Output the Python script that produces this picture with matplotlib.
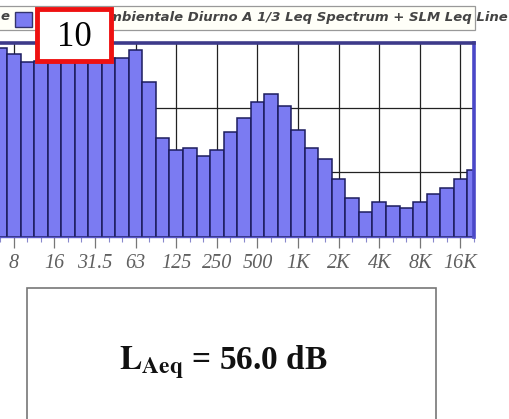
import matplotlib
matplotlib.use("Agg")
import matplotlib.pyplot as plt
from matplotlib.patches import Rectangle

plt.rcParams["mathtext.fontset"] = "stix"

# ---- data ----
bands = ["6.3", "8", "10", "12.5", "16", "20", "25", "31.5", "40", "50", "63", "80",
         "100", "125", "160", "200", "250", "315", "400", "500", "630", "800",
         "1K", "1.25K", "1.6K", "2K", "2.5K", "3.15K", "4K", "5K", "6.3K", "8K",
         "10K", "12.5K", "16K", "20K"]
levels = [87.7, 84.9, 81.2, 81.5, 82.5, 82.0, 83.0, 82.5, 83.0, 83.0, 86.8, 71.9,
          45.9, 40.4, 41.3, 37.6, 40.4, 48.7, 55.2, 62.6, 66.3, 60.8,
          49.6, 41.3, 36.2, 26.9, 18.1, 11.6, 16.2, 14.4, 13.5, 16.2,
          19.9, 22.7, 26.9, 31.1]
tick_labels = ["8", "16", "31.5", "63", "125", "250", "500", "1K", "2K", "4K", "8K", "16K"]
legend_text = "Rumore Ambientale Diurno A 1/3 Leq Spectrum + SLM Leq Line"
legend_fragment = "e"
result_text = "56.0 dB"
marker_label = "10"

W, H = 510, 419
fig = plt.figure(figsize=(W / 100, H / 100), dpi=100)
fig.patch.set_facecolor("white")

def fx(p):
    return p / W

def fy(p):
    return 1 - p / H

# axes geometry (pixels)
step = 13.55
x0_idx = -1.0
x1_idx = 34.96
left_px = 461 - step * (34 - x0_idx)
right_px = 474
top_px, bot_px = 43, 237

ax = fig.add_axes([fx(left_px), fy(bot_px), fx(right_px) - fx(left_px), fy(top_px) - fy(bot_px)])
idx = list(range(len(bands)))
ax.bar(idx, levels, width=1.0, color="#7b7bf2", edgecolor="#1c1c5e", linewidth=1.1, zorder=2)
ax.set_xlim(x0_idx, x1_idx)
ax.set_ylim(0, 90)

ax.set_yticks([30, 60])
ax.yaxis.grid(True, color="#222222", linewidth=0.9, zorder=1)
ax.tick_params(axis="y", left=False, labelleft=False)

major_pos = [bands.index(t) for t in tick_labels]
ax.set_xticks(major_pos)
ax.set_xticklabels(tick_labels, fontfamily="Liberation Serif", fontstyle="italic",
                   fontsize=14.5, color="#606060")
ax.set_xticks(idx, minor=True)
ax.tick_params(axis="x", which="major", direction="out", length=8, width=0.9,
               color="#777777", pad=4)
ax.tick_params(axis="x", which="minor", direction="out", length=3.5, width=0.8,
               color="#8888cc")
ax.xaxis.grid(True, which="major", color="#222222", linewidth=0.9, zorder=1)
ax.set_axisbelow(True)

ax.spines["top"].set_color("#3d3a8a")
ax.spines["top"].set_linewidth(2.6)
ax.spines["right"].set_color("#4a48c8")
ax.spines["right"].set_linewidth(2.6)
ax.spines["bottom"].set_color("#5a58c8")
ax.spines["bottom"].set_linewidth(1.0)
ax.spines["left"].set_visible(False)

# legend box
fig.patches.append(Rectangle((fx(-10), fy(30)), fx(475) - fx(-10), fy(6) - fy(30),
                             transform=fig.transFigure, facecolor="#fffff8",
                             edgecolor="#999999", linewidth=0.9, zorder=1))
fig.text(fx(1), fy(17), legend_fragment, ha="left", va="center", fontsize=9.5,
         fontstyle="italic", fontweight="bold", color="#444444", family="DejaVu Sans", zorder=2)
fig.patches.append(Rectangle((fx(15), fy(27)), fx(32) - fx(15), fy(12) - fy(27),
                             transform=fig.transFigure, facecolor="#7b7bf2",
                             edgecolor="#33336e", linewidth=1.0, zorder=2))
fig.text(fx(36), fy(17), legend_text, ha="left", va="center", fontsize=9.5,
         fontstyle="italic", fontweight="bold", color="#444444", family="DejaVu Sans", zorder=2)

# red marker box
fig.text(fx(74), fy(37), marker_label, ha="center", va="center", fontsize=25,
         family="Liberation Serif", color="black", zorder=10,
         bbox=dict(boxstyle="square,pad=0", facecolor="white", edgecolor="none"))
fig.patches.append(Rectangle((fx(37), fy(61)), fx(111) - fx(37), fy(9) - fy(61),
                             transform=fig.transFigure, facecolor="white",
                             edgecolor="#ee1111", linewidth=3.5, zorder=9))

# result box
fig.patches.append(Rectangle((fx(27), fy(425)), fx(436) - fx(27), fy(288) - fy(425),
                             transform=fig.transFigure, facecolor="white",
                             edgecolor="#777777", linewidth=1.2, zorder=1))
fig.text(fx(223), fy(362), r"$\mathbf{L}_{\mathbf{Aeq}}$ = " + result_text, ha="center", va="center",
         fontsize=24, fontweight="bold", family="Liberation Serif", color="#111111")

fig.savefig("out.png", dpi=100, facecolor="white")
